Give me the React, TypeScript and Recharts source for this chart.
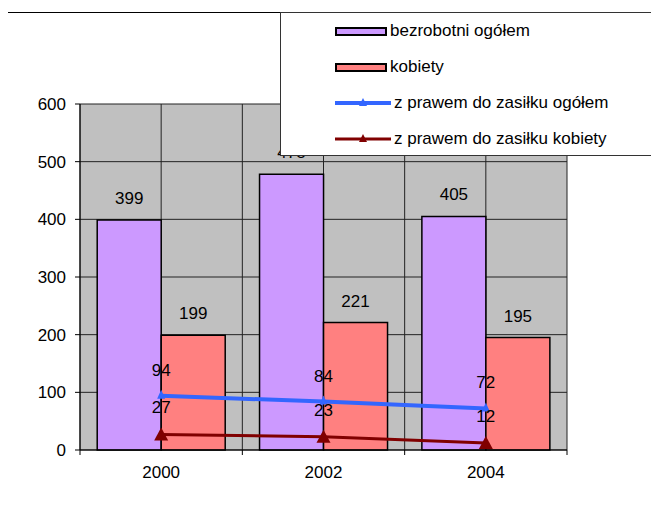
import React from 'react';
import { ComposedChart, Bar, Line, XAxis, YAxis, CartesianGrid, LabelList } from 'recharts';

const years = ['2000', '2002', '2004'];
const bezrobotniOgolem = [399, 478, 405];
const kobiety = [199, 221, 195];
const zasilekOgolem = [94, 84, 72];
const zasilekKobiety = [27, 23, 12];
const yTicks = [0, 100, 200, 300, 400, 500, 600];

const seriesNames = ['bezrobotni ogółem', 'kobiety', 'z prawem do zasiłku ogółem', 'z prawem do zasiłku kobiety'];
const seriesColors = ['#CC99FF', '#FF8080', '#3366FF', '#800000'];

const data = years.map((y, i) => ({
  year: y,
  ogolem: bezrobotniOgolem[i],
  kobiety: kobiety[i],
  zasOgolem: zasilekOgolem[i],
  zasKobiety: zasilekKobiety[i],
}));

const font = '"Liberation Sans", Arial, sans-serif';

const SmallTriangle = (props: any) => {
  const { cx, cy } = props;
  if (cx == null || cy == null) return null;
  return <path d={`M${cx - 4},${cy + 3} L${cx + 4},${cy + 3} L${cx},${cy - 6} Z`} fill={seriesColors[2]} />;
};

const BigTriangle = (props: any) => {
  const { cx, cy } = props;
  if (cx == null || cy == null) return null;
  return <path d={`M${cx - 7},${cy + 6} L${cx + 7},${cy + 6} L${cx},${cy - 7} Z`} fill={seriesColors[3]} />;
};

const XTick = (props: any) => {
  const { x, y, payload, index } = props;
  const half = payload.offset || 0;
  return (
    <g>
      <line x1={x - half} y1={y - 8} x2={x - half} y2={y - 3} stroke="#000" />
      {index === years.length - 1 && <line x1={x + half} y1={y - 8} x2={x + half} y2={y - 3} stroke="#000" />}
      <text x={x} y={y + 8} dy="0.71em" textAnchor="middle" fontSize={17} fill="#000" fontFamily={font}>
        {payload.value}
      </text>
    </g>
  );
};

const LegendBox = () => (
  <div
    style={{
      position: 'absolute',
      left: 280,
      top: 12,
      width: 400,
      height: 144,
      background: '#fff',
      border: '1px solid #333',
      boxSizing: 'border-box',
      fontFamily: font,
      fontSize: 17,
    }}
  >
    {seriesNames.map((name, i) => (
      <div key={name} style={{ position: 'absolute', left: 54, top: i * 36, height: 36, display: 'flex', alignItems: 'center' }}>
        {i < 2 ? (
          <div style={{ width: 52, height: 9, background: seriesColors[i], border: '2px solid #000', boxSizing: 'border-box' }} />
        ) : (
          <svg width={56} height={14}>
            <line x1={0} y1={7} x2={56} y2={7} stroke={seriesColors[i]} strokeWidth={i === 2 ? 4 : 3} />
            <path d="M24,10 L32,10 L28,2 Z" fill={seriesColors[i]} />
          </svg>
        )}
        <span style={{ marginLeft: 3, whiteSpace: 'nowrap' }}>{name}</span>
      </div>
    ))}
  </div>
);

export default function App() {
  return (
    <div style={{ position: 'relative', width: 659, height: 512, margin: -8, overflow: 'hidden', background: '#fff' }}>
      <div
        style={{
          position: 'absolute',
          left: 7,
          top: 12,
          width: 700,
          height: 600,
          borderLeft: '1px solid #000',
          borderTop: '1px solid #000',
        }}
      />
      <div style={{ position: 'absolute', left: 0, top: 0 }}>
        <ComposedChart
          width={659}
          height={512}
          data={data}
          margin={{ top: 104, right: 92, left: 0, bottom: 32 }}
          barCategoryGap="10.6%"
          barGap={0}
        >
          <CartesianGrid
            fill="#C0C0C0"
            stroke="#222"
            strokeOpacity={1}
            verticalCoordinatesGenerator={({ offset }: any) =>
              Array.from({ length: years.length * 2 + 1 }, (_, i) => offset.left + (i * offset.width) / (years.length * 2))
            }
          />
          <XAxis
            dataKey="year"
            height={30}
            tickLine={false}
            axisLine={{ stroke: '#000' }}
            tick={<XTick />}
            interval={0}
          />
          <YAxis
            width={80}
            domain={[0, 600]}
            ticks={yTicks}
            interval={0}
            tickSize={5}
            tickMargin={9}
            axisLine={{ stroke: '#000' }}
            tickLine={{ stroke: '#000' }}
            tick={{ fontSize: 17, fill: '#000', fontFamily: font }}
          />
          <Bar dataKey="ogolem" name={seriesNames[0]} fill={seriesColors[0]} stroke="#000" strokeWidth={1.5} isAnimationActive={false}>
            <LabelList dataKey="ogolem" position="top" offset={16} fontSize={17} fill="#000" fontFamily={font} />
          </Bar>
          <Bar dataKey="kobiety" name={seriesNames[1]} fill={seriesColors[1]} stroke="#000" strokeWidth={1.5} isAnimationActive={false}>
            <LabelList dataKey="kobiety" position="top" offset={16} fontSize={17} fill="#000" fontFamily={font} />
          </Bar>
          <Line
            type="linear"
            dataKey="zasOgolem"
            name={seriesNames[2]}
            stroke={seriesColors[2]}
            strokeWidth={4}
            dot={<SmallTriangle />}
            activeDot={false}
            isAnimationActive={false}
          >
            <LabelList dataKey="zasOgolem" position="top" offset={20} fontSize={17} fill="#000" fontFamily={font} />
          </Line>
          <Line
            type="linear"
            dataKey="zasKobiety"
            name={seriesNames[3]}
            stroke={seriesColors[3]}
            strokeWidth={3}
            dot={<BigTriangle />}
            activeDot={false}
            isAnimationActive={false}
          >
            <LabelList dataKey="zasKobiety" position="top" offset={21} fontSize={17} fill="#000" fontFamily={font} />
          </Line>
        </ComposedChart>
      </div>
      <LegendBox />
    </div>
  );
}
